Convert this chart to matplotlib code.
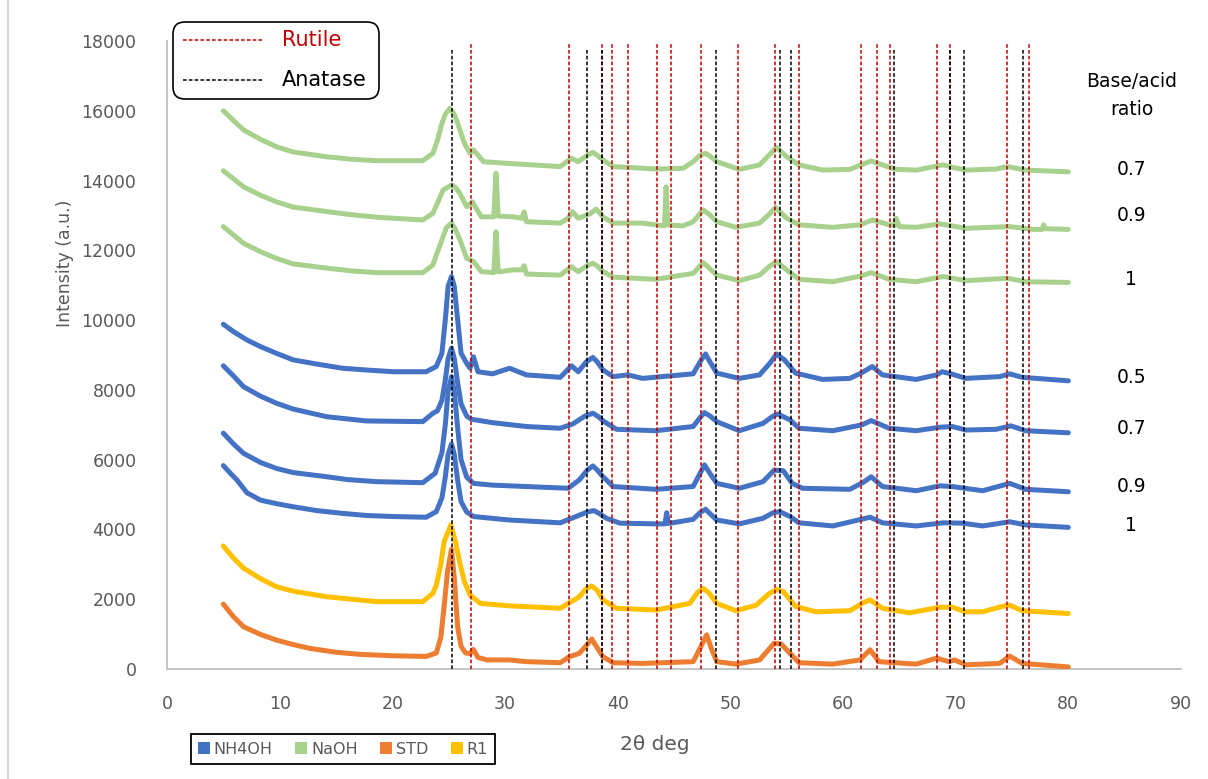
"""XRD patterns of TiO2 samples with rutile / anatase reference lines."""

import matplotlib
matplotlib.use("Agg")
import matplotlib.pyplot as plt
from matplotlib.lines import Line2D
from matplotlib.patches import FancyBboxPatch, Patch

plt.rcParams["font.family"] = ["DejaVu Sans"]

# ---- data (2theta in deg, intensity in a.u.) ----
NH4OH_05_X = [5.0, 5.9, 7.1, 8.3, 9.7, 11.2, 13.3, 15.6, 17.7, 20.1, 23.0, 23.9, 24.4, 24.7, 24.95,
              25.25, 25.5, 25.8, 26.1, 26.6, 26.9, 27.2, 27.6, 28.9, 30.4, 31.9, 34.9, 35.9, 36.5,
              37.2, 37.8, 38.2, 38.7, 39.6, 40.9, 42.2, 46.7, 47.4, 47.8, 48.2, 48.8, 50.8, 52.6,
              53.6, 54.1, 54.8, 55.8, 58.2, 60.6, 61.6, 62.6, 63.5, 66.5, 68.3, 68.8, 69.6, 70.9,
              73.9, 74.8, 75.9, 80.0]
NH4OH_05_Y = [9880, 9670, 9430, 9240, 9050, 8860, 8740, 8620, 8570, 8520, 8520, 8670, 9050, 10000, 10960,
              11250, 10960, 10000, 9050, 8760, 8620, 8950, 8520, 8460, 8620, 8430, 8360, 8690, 8520,
              8800, 8930, 8800, 8570, 8380, 8430, 8330, 8460, 8850, 9030, 8800, 8480, 8330, 8430,
              8800, 9030, 8860, 8480, 8300, 8330, 8480, 8670, 8430, 8300, 8430, 8520, 8460, 8330,
              8380, 8460, 8360, 8260]

NH4OH_07_X = [5.0, 5.9, 6.8, 8.3, 9.7, 11.2, 14.2, 17.7, 22.7, 23.6, 24.0, 24.4, 24.7, 24.95, 25.25,
              25.5, 25.8, 26.1, 26.6, 27.0, 28.9, 31.9, 34.9, 36.0, 37.1, 37.8, 38.3, 38.8, 39.9,
              43.4, 46.7, 47.3, 47.7, 48.2, 48.8, 50.8, 52.9, 53.7, 54.2, 55.3, 56.1, 59.1, 61.7,
              62.5, 64.1, 66.5, 68.6, 69.7, 70.9, 73.6, 74.9, 76.2, 80.0]
NH4OH_07_Y = [8690, 8400, 8090, 7820, 7620, 7450, 7230, 7110, 7090, 7330, 7400, 7700, 8280, 8900, 9200,
              8900, 8200, 7600, 7250, 7160, 7060, 6950, 6900, 7020, 7250, 7330, 7230, 7090, 6870,
              6830, 6950, 7200, 7350, 7250, 7090, 6830, 7040, 7230, 7310, 7140, 6900, 6830, 7000,
              7120, 6900, 6830, 6930, 6950, 6850, 6870, 6970, 6830, 6770]

NH4OH_09_X = [5.0, 5.9, 6.8, 8.3, 9.7, 11.2, 14.2, 16.0, 18.6, 22.7, 23.8, 24.4, 24.7, 24.95, 25.25,
              25.5, 25.8, 26.1, 26.6, 27.2, 28.9, 31.9, 35.6, 36.6, 37.3, 37.8, 38.2, 38.7, 39.6,
              43.4, 46.7, 47.3, 47.7, 48.2, 48.8, 50.8, 52.9, 53.9, 54.7, 55.5, 56.4, 60.6, 61.8,
              62.5, 63.5, 66.5, 68.6, 69.7, 70.8, 72.4, 74.8, 76.2, 80.0]
NH4OH_09_Y = [6760, 6450, 6180, 5920, 5750, 5630, 5510, 5430, 5370, 5340, 5610, 6200, 7000, 7950, 8380,
              7950, 6900, 6000, 5500, 5320, 5270, 5230, 5180, 5420, 5700, 5820, 5700, 5510, 5230,
              5150, 5230, 5600, 5850, 5600, 5320, 5180, 5370, 5700, 5680, 5320, 5180, 5150, 5350,
              5510, 5230, 5110, 5250, 5230, 5180, 5110, 5320, 5150, 5080]

NH4OH_1_X = [5.0, 5.6, 6.2, 7.1, 8.3, 9.7, 11.2, 13.3, 15.6, 17.7, 20.1, 23.0, 23.9, 24.4, 24.7,
             24.95, 25.25, 25.5, 25.8, 26.1, 26.6, 27.2, 30.4, 34.9, 36.3, 37.3, 37.9, 38.4, 39.0,
             40.2, 43.4, 44.2, 44.35, 44.5, 46.7, 47.3, 47.8, 48.3, 48.8, 50.8, 52.9, 53.8, 54.4,
             55.3, 56.1, 59.1, 62.4, 63.5, 66.5, 68.9, 70.6, 72.4, 74.8, 76.2, 80.0]
NH4OH_1_Y = [5830, 5620, 5420, 5050, 4840, 4740, 4650, 4540, 4460, 4400, 4370, 4350, 4510, 4900, 5500,
             6150, 6450, 6150, 5400, 4800, 4500, 4370, 4270, 4190, 4370, 4500, 4540, 4450, 4320,
             4180, 4160, 4160, 4480, 4170, 4290, 4480, 4580, 4420, 4270, 4160, 4320, 4480, 4510,
             4370, 4190, 4100, 4350, 4190, 4100, 4190, 4180, 4100, 4220, 4130, 4060]

NAOH_07_X = [5.0, 5.9, 6.8, 8.3, 9.7, 11.2, 14.2, 16.4, 18.6, 22.7, 23.6, 24.0, 24.4, 24.7, 25.1,
             25.5, 25.8, 26.4, 26.9, 27.2, 28.1, 30.4, 34.9, 35.9, 36.5, 37.3, 37.8, 38.2, 38.7,
             39.6, 40.8, 43.4, 45.8, 46.7, 47.3, 47.8, 48.2, 48.8, 50.8, 52.6, 53.5, 54.1, 55.0,
             56.1, 58.2, 60.6, 61.6, 62.5, 63.5, 64.7, 66.5, 68.9, 69.7, 70.9, 73.6, 74.6, 76.2,
             80.0]
NAOH_07_Y = [16000, 15720, 15450, 15180, 14970, 14820, 14680, 14610, 14570, 14570, 14780, 15150, 15640,
             15900, 16070, 15900, 15640, 15070, 14780, 14880, 14540, 14490, 14400, 14640, 14540, 14720,
             14810, 14720, 14590, 14400, 14380, 14330, 14350, 14540, 14720, 14780, 14700, 14540, 14320,
             14450, 14750, 14950, 14680, 14450, 14300, 14320, 14450, 14560, 14450, 14320, 14300, 14450,
             14380, 14300, 14330, 14400, 14300, 14250]

NAOH_09_X = [5.0, 5.9, 6.8, 8.3, 9.7, 11.2, 14.2, 16.4, 18.6, 22.7, 23.6, 24.0, 24.5, 25.25, 25.6,
             26.0, 26.6, 27.1, 27.9, 29.0, 29.2, 29.4, 30.7, 31.5, 31.7, 31.9, 34.9, 35.6, 36.0,
             36.5, 37.5, 38.1, 38.7, 39.6, 42.2, 43.4, 44.15, 44.3, 44.45, 45.8, 46.7, 47.6, 48.2,
             48.8, 50.5, 52.6, 53.5, 54.0, 55.0, 56.1, 59.1, 61.5, 62.6, 64.1, 64.6, 64.7, 65.0,
             66.5, 68.6, 70.9, 74.8, 76.8, 77.7, 77.8, 78.0, 80.0]
NAOH_09_Y = [14280, 14050, 13820, 13580, 13390, 13240, 13110, 13020, 12950, 12870, 13060, 13350, 13730,
             13870, 13800, 13630, 13250, 13390, 12960, 12960, 14210, 12980, 12960, 12920, 13100, 12820,
             12780, 12920, 13110, 12920, 13040, 13180, 12960, 12780, 12780, 12730, 12700, 13820, 12730,
             12700, 12820, 13160, 13010, 12820, 12660, 12780, 13050, 13230, 12920, 12730, 12660, 12730,
             12870, 12730, 12720, 12920, 12680, 12660, 12760, 12630, 12680, 12600, 12600, 12730, 12620,
             12600]

NAOH_1_X = [5.0, 5.9, 6.8, 8.3, 9.7, 11.2, 14.2, 16.4, 18.6, 22.7, 23.6, 24.0, 24.4, 24.8, 25.25,
            25.6, 26.0, 26.6, 27.2, 27.9, 29.0, 29.2, 29.4, 30.7, 31.5, 31.7, 31.9, 34.9, 35.9, 36.5,
            37.3, 37.8, 38.2, 38.7, 39.6, 43.4, 46.7, 47.6, 48.8, 50.8, 52.6, 53.5, 54.1, 55.0, 56.1,
            59.1, 61.5, 62.5, 64.1, 66.5, 68.9, 70.9, 74.6, 76.2, 80.0]
NAOH_1_Y = [12680, 12440, 12200, 11960, 11770, 11610, 11490, 11410, 11360, 11360, 11580, 11950, 12300,
            12650, 12780, 12600, 12300, 11770, 11680, 11390, 11360, 12530, 11380, 11440, 11440, 11560,
            11320, 11290, 11530, 11390, 11560, 11630, 11550, 11390, 11230, 11170, 11340, 11650, 11290,
            11130, 11290, 11550, 11680, 11440, 11170, 11100, 11260, 11360, 11170, 11100, 11250, 11130,
            11200, 11100, 11080]

STD_X = [5.0, 5.9, 6.8, 8.3, 9.7, 11.2, 12.7, 15.0, 17.1, 20.0, 23.0, 23.9, 24.3, 24.6, 24.9, 25.25,
         25.5, 25.8, 26.1, 26.5, 26.9, 27.2, 27.6, 28.4, 30.4, 31.9, 34.9, 35.7, 36.6, 37.3, 37.7,
         38.1, 38.7, 39.6, 42.2, 46.7, 47.4, 47.9, 48.3, 48.8, 50.5, 52.6, 53.9, 54.5, 55.3, 56.1,
         59.1, 61.5, 62.4, 63.2, 66.5, 68.3, 69.4, 69.9, 70.9, 73.9, 74.8, 75.9, 80.0]
STD_Y = [1860, 1500, 1210, 990, 830, 700, 590, 480, 420, 380, 360, 460, 900, 1800, 2800, 3430,
         2600, 1200, 650, 460, 440, 560, 330, 260, 260, 210, 180, 350, 450, 700, 860,
         650, 350, 180, 160, 210, 650, 980, 600, 210, 140, 260, 740, 720, 450, 180,
         140, 260, 550, 210, 140, 310, 210, 260, 120, 160, 370, 160, 60]

R1_X = [5.0, 5.9, 6.8, 8.3, 9.7, 11.2, 14.2, 18.6, 22.7, 23.6, 23.9, 24.3, 24.6, 25.2, 25.6, 26.0,
        26.4, 26.9, 27.8, 30.4, 34.9, 36.6, 37.2, 37.7, 38.2, 38.7, 39.9, 43.4, 46.4, 47.1, 47.6,
        48.1, 48.8, 50.5, 52.3, 53.4, 54.1, 54.7, 55.8, 57.6, 60.6, 61.8, 62.4, 63.5, 65.9, 68.6,
        69.7, 70.9, 72.4, 74.2, 74.8, 75.9, 80.0]
R1_Y = [3525, 3180, 2890, 2590, 2360, 2230, 2070, 1930, 1930, 2170, 2400, 3000, 3650, 4130, 3650, 3030,
        2500, 2120, 1880, 1810, 1740, 2070, 2300, 2380, 2250, 1980, 1740, 1690, 1880, 2200, 2310,
        2180, 1880, 1670, 1830, 2150, 2280, 2220, 1790, 1640, 1670, 1900, 1980, 1740, 1610, 1770,
        1770, 1640, 1640, 1800, 1830, 1670, 1590]

RUTILE_POS = [27.0, 35.7, 38.65, 39.5, 40.9, 43.5, 44.7, 47.4, 50.7, 54.0, 56.1, 61.6, 63.05, 64.2,
              68.35, 69.5, 74.6, 76.5]
ANATASE_POS = [25.3, 37.3, 38.6, 48.7, 54.45, 55.4, 64.5, 69.5, 70.7, 75.95]

RATIO_LABELS = ["0.7", "0.9", "1", "0.5", "0.7", "0.9", "1"]
RATIO_LABEL_Y = [14320, 13010, 11170, 8360, 6900, 5225, 4127]

BLUE = "#4472C4"
GREEN = "#A9D18E"
ORANGE = "#ED7D31"
YELLOW = "#FFC000"
RED = "#C00000"
GREY_TEXT = "#595959"

W, H = 1208, 779


def draw_curves(ax):
    kw = dict(lw=3.6, solid_joinstyle="round", solid_capstyle="round")
    for xs, ys in [(NH4OH_05_X, NH4OH_05_Y), (NH4OH_07_X, NH4OH_07_Y),
                   (NH4OH_09_X, NH4OH_09_Y), (NH4OH_1_X, NH4OH_1_Y)]:
        ax.plot(xs, ys, color=BLUE, zorder=2, **kw)
    for xs, ys in [(NAOH_07_X, NAOH_07_Y), (NAOH_09_X, NAOH_09_Y), (NAOH_1_X, NAOH_1_Y)]:
        ax.plot(xs, ys, color=GREEN, zorder=2, **kw)
    ax.plot(R1_X, R1_Y, color=YELLOW, zorder=3, **kw)
    ax.plot(STD_X, STD_Y, color=ORANGE, zorder=4, **kw)


def draw_reference_lines(ax):
    dash = (0, (2.4, 1.4))
    ax.vlines(RUTILE_POS, 0, 17900, colors=RED, linestyles=[dash], lw=1.1, zorder=5)
    ax.vlines(ANATASE_POS, 0, 17750, colors="black", linestyles=[dash], lw=1.1, zorder=6)


def draw_phase_box(fig):
    tr = fig.dpi_scale_trans
    box = FancyBboxPatch((173 / 100, (H - 99) / 100), 206 / 100, 77 / 100,
                         boxstyle="round,pad=0,rounding_size=0.12", transform=tr,
                         facecolor="white", edgecolor="black", lw=1.2, zorder=10)
    fig.patches.append(box)
    dash = (0, (2.4, 1.4))
    for y_px, color, label in [(40, RED, "Rutile"), (80, "black", "Anatase")]:
        y = (H - y_px) / 100
        fig.lines.append(Line2D([1.83, 2.63], [y, y], transform=tr, color=color,
                                lw=1.1, linestyle=dash, zorder=11))
        fig.text(2.82, y, label, transform=tr, color=color, fontsize=15,
                 va="center", ha="left", zorder=11)


def main() -> None:
    fig = plt.figure(figsize=(W / 100, H / 100), dpi=100)
    ax = fig.add_axes([167 / W, 1 - 669 / H, 1014 / W, 628 / H])

    draw_curves(ax)
    draw_reference_lines(ax)

    ax.set_xlim(0, 90)
    ax.set_ylim(0, 18000)
    ax.set_xticks(range(0, 91, 10))
    ax.set_yticks(range(0, 18001, 2000))
    ax.tick_params(length=0, labelsize=12.5, labelcolor=GREY_TEXT)
    ax.tick_params(axis="y", pad=22)
    ax.tick_params(axis="x", pad=19)
    for side in ["top", "right"]:
        ax.spines[side].set_visible(False)
    for side in ["left", "bottom"]:
        ax.spines[side].set_color("#BFBFBF")
        ax.spines[side].set_linewidth(1.3)

    ax.set_ylabel("Intensity (a.u.)", fontsize=12.5, color=GREY_TEXT)
    ax.yaxis.set_label_coords(-0.092, 0.646)
    fig.text(655 / W, 1 - 745 / H, "2θ deg", fontsize=14.5, color=GREY_TEXT,
             ha="center", va="center")

    # base/acid ratio annotations
    ax.text(85.6, 16430, "Base/acid\nratio", fontsize=13.5, ha="center", va="center",
            linespacing=1.6)
    for label, y in zip(RATIO_LABELS, RATIO_LABEL_Y):
        ax.text(85.6, y, label, fontsize=13.5, ha="center", va="center")

    draw_phase_box(fig)

    handles = [Patch(facecolor=c, edgecolor="none") for c in [BLUE, GREEN, ORANGE, YELLOW]]
    leg = fig.legend(handles, ["NH4OH", "NaOH", "STD", "R1"], ncol=4, loc="center",
                     bbox_to_anchor=(343 / W, 1 - 749 / H), fontsize=11.5,
                     handlelength=0.75, handleheight=0.75, handletextpad=0.25,
                     columnspacing=1.4, borderpad=0.45, fancybox=False,
                     edgecolor="black", framealpha=1)
    leg.get_frame().set_linewidth(1.3)
    for t in leg.get_texts():
        t.set_color(GREY_TEXT)

    # outer chart-area border on the left edge
    fig.lines.append(Line2D([8 / W, 8 / W], [0, 1], transform=fig.transFigure,
                            color="#D0D0D0", lw=1.2))

    fig.savefig("out.png", dpi=100)
    plt.close(fig)


if __name__ == "__main__":
    main()
